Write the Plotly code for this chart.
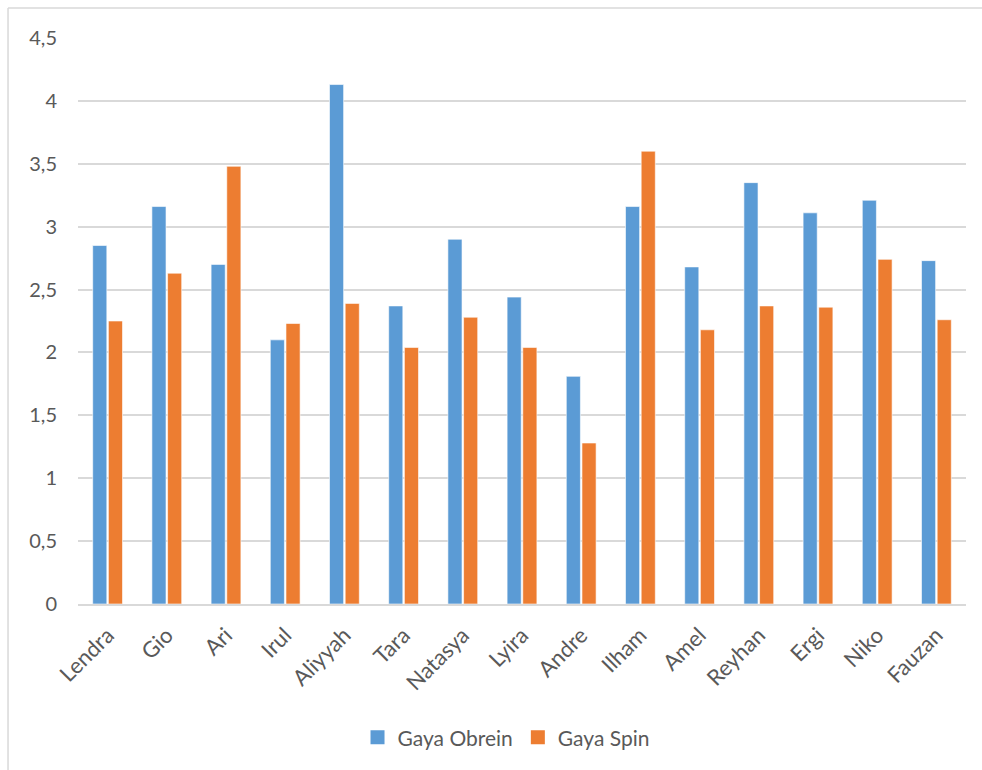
import plotly.graph_objects as go

names = ["Lendra", "Gio", "Ari", "Irul", "Aliyyah", "Tara", "Natasya", "Lyira",
         "Andre", "Ilham", "Amel", "Reyhan", "Ergi", "Niko", "Fauzan"]
gaya_obrein = [2.85, 3.16, 2.70, 2.10, 4.13, 2.37, 2.90, 2.44, 1.81, 3.16, 2.68, 3.35, 3.11, 3.21, 2.73]
gaya_spin = [2.25, 2.63, 3.48, 2.23, 2.39, 2.04, 2.28, 2.04, 1.28, 3.60, 2.18, 2.37, 2.36, 2.74, 2.26]
series_names = ["Gaya Obrein", "Gaya Spin"]
y_ticks = [0, 0.5, 1, 1.5, 2, 2.5, 3, 3.5, 4, 4.5]
y_tick_text = ["0", "0,5", "1", "1,5", "2", "2,5", "3", "3,5", "4", "4,5"]

BLUE = "#5B9BD5"
ORANGE = "#ED7D31"
TXT = "#595959"
GRID = "#D9D9D9"
FONT = "Lato, 'Open Sans', sans-serif"

fig = go.Figure()
for vals, nm, col in [(gaya_obrein, series_names[0], BLUE), (gaya_spin, series_names[1], ORANGE)]:
    fig.add_trace(go.Bar(x=names, y=vals, name=nm, showlegend=False, legendgroup=nm,
                         marker=dict(color=col, line=dict(color="white", width=0.6))))
# legend entries with square swatches
for nm, col in [(series_names[0], BLUE), (series_names[1], ORANGE)]:
    fig.add_trace(go.Scatter(x=[None], y=[None], mode="markers", name=nm, legendgroup=nm,
                             marker=dict(symbol="square", size=14, color=col)))

fig.update_layout(
    width=982, height=770,
    margin=dict(l=78, r=16, t=38, b=166),
    paper_bgcolor="white", plot_bgcolor="white",
    barmode="group", bargap=0.47, bargroupgap=0.1,
    font=dict(family=FONT, size=20, color=TXT),
    showlegend=True,
    legend=dict(orientation="h", x=0.482, xanchor="center", y=-0.2, yanchor="top",
                font=dict(family=FONT, size=21, color=TXT),
                itemwidth=30, traceorder="normal", tracegroupgap=0),
    shapes=[
        dict(type="line", xref="paper", yref="paper", x0=-0.0788, x1=1.1, y0=1.053, y1=1.053,
             line=dict(color=GRID, width=1.5), layer="below"),
        dict(type="line", xref="paper", yref="paper", x0=-0.0788, x1=-0.0788, y0=-0.35, y1=1.053,
             line=dict(color=GRID, width=1.5), layer="below"),
    ],
)
fig.update_xaxes(tickangle=-45, showline=True, linecolor=GRID, linewidth=1.5,
                 ticks="", showgrid=False, ticklabelstandoff=8,
                 tickfont=dict(size=22, color=TXT))
fig.update_yaxes(range=[0, 4.5], tickvals=y_ticks, ticktext=y_tick_text,
                 showgrid=True, gridcolor=GRID, gridwidth=1.5, zeroline=False,
                 showline=False, ticks="", ticklabelstandoff=20,
                 tickfont=dict(size=20, color=TXT))

fig.write_html("out.html")
